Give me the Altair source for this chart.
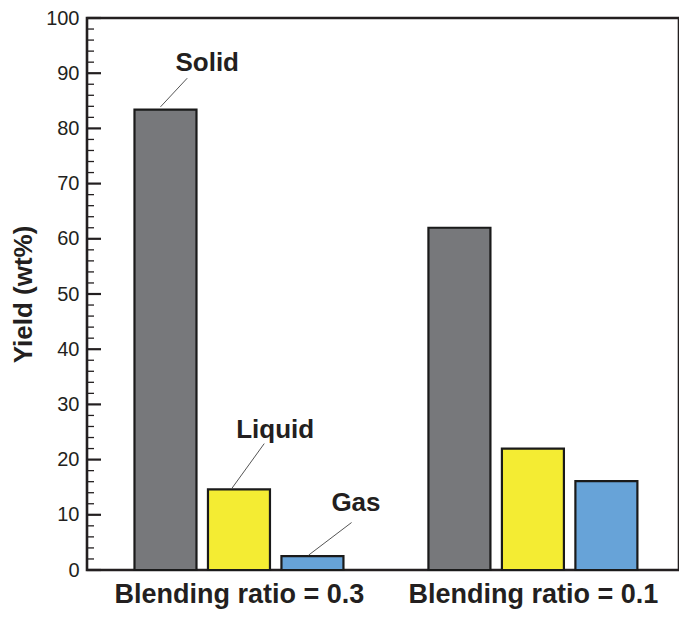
import altair as alt
import pandas as pd

# ---- data ----
groups = ["Blending ratio = 0.3", "Blending ratio = 0.1"]
series = ["Solid", "Liquid", "Gas"]
yield_03 = [83.4, 14.6, 2.5]
yield_01 = [62.0, 22.0, 16.1]
colors = ["#77787b", "#f4ec33", "#67a3d8"]

major_ticks = [0, 10, 20, 30, 40, 50, 60, 70, 80, 90, 100]
minor_ticks = [2, 4, 6, 8, 12, 14, 16, 18, 22, 24, 26, 28, 32, 34, 36, 38,
               42, 44, 46, 48, 52, 54, 56, 58, 62, 64, 66, 68, 72, 74, 76, 78,
               82, 84, 86, 88, 92, 94, 96, 98]

# annotation (callout) positions in data units, group 0.3 only
ann_label = ["Solid", "Liquid", "Gas"]
ann_text_x = [-0.108, 0.123, 0.398]
ann_text_y = [90.4, 23.9, 10.7]
ann_line_x1 = [-0.267, -0.024, 0.237]
ann_line_y1 = [83.9, 14.8, 2.7]
ann_line_x2 = [-0.176, 0.086, 0.383]
ann_line_y2 = [89.1, 22.9, 8.6]

# ---- tables ----
rows = []
for gi, vals in enumerate([yield_03, yield_01]):
    for si, (s, v) in enumerate(zip(series, vals)):
        rows.append({"group": groups[gi], "series": s, "value": v,
                     "pos": gi + (si - 1) * 0.25})
bars_df = pd.DataFrame(rows)
ann_df = pd.DataFrame({"label": ann_label, "tx": ann_text_x, "ty": ann_text_y,
                       "x1": ann_line_x1, "y1": ann_line_y1,
                       "x2": ann_line_x2, "y2": ann_line_y2})
major_df = pd.DataFrame({"t": major_ticks})
minor_df = pd.DataFrame({"t": minor_ticks})

FONT = "Liberation Sans"
label_expr = f"datum.value == 0 ? '{groups[0]}' : '{groups[1]}'"

xscale = alt.Scale(domain=[-0.5, 1.48], nice=False, zero=False)
yscale = alt.Scale(domain=[0, 100], nice=False)

bars = alt.Chart(bars_df).mark_bar(width=62, stroke="#1a1a1a", strokeWidth=2.2).encode(
    x=alt.X("pos:Q", scale=xscale,
            axis=alt.Axis(values=[0, 1], labelExpr=label_expr, title=None,
                          ticks=False, domain=False, grid=False, labelLimit=0,
                          labelFont=FONT, labelFontSize=27, labelFontWeight="bold",
                          labelColor="#231f20", labelPadding=11)),
    y=alt.Y("value:Q", scale=yscale,
            axis=alt.Axis(values=major_ticks, title="Yield (wt%)", ticks=False,
                          domain=False, grid=False, labelFont=FONT,
                          labelFontSize=20, labelColor="#231f20", labelPadding=8,
                          titleFont=FONT, titleFontSize=26, titleFontWeight="bold",
                          titleColor="#231f20", titlePadding=9)),
    color=alt.Color("series:N", scale=alt.Scale(domain=series, range=colors),
                    legend=None),
)

major = alt.Chart(major_df).mark_rule(color="#231f20", strokeWidth=2.2).encode(
    y=alt.Y("t:Q", scale=yscale), x=alt.value(0), x2=alt.value(14))
minor = alt.Chart(minor_df).mark_rule(color="#231f20", strokeWidth=1.3).encode(
    y=alt.Y("t:Q", scale=yscale), x=alt.value(0), x2=alt.value(7))

lines = alt.Chart(ann_df).mark_rule(color="#555555", strokeWidth=1).encode(
    x=alt.X("x1:Q", scale=xscale), y=alt.Y("y1:Q", scale=yscale),
    x2="x2:Q", y2="y2:Q")
texts = alt.Chart(ann_df).mark_text(font=FONT, fontSize=26, fontWeight="bold",
                                    color="#231f20", baseline="alphabetic",
                                    align="center").encode(
    x=alt.X("tx:Q", scale=xscale), y=alt.Y("ty:Q", scale=yscale), text="label:N")

chart = alt.layer(bars, minor, major, lines, texts).properties(
    width=592, height=552,
    autosize=alt.AutoSizeParams(type="none"),
    padding={"left": 79, "top": 10, "right": 0, "bottom": 39},
).configure_view(stroke="#231f20", strokeWidth=2.6)

chart.save("out.html", embed_options={"renderer": "svg", "actions": False})
